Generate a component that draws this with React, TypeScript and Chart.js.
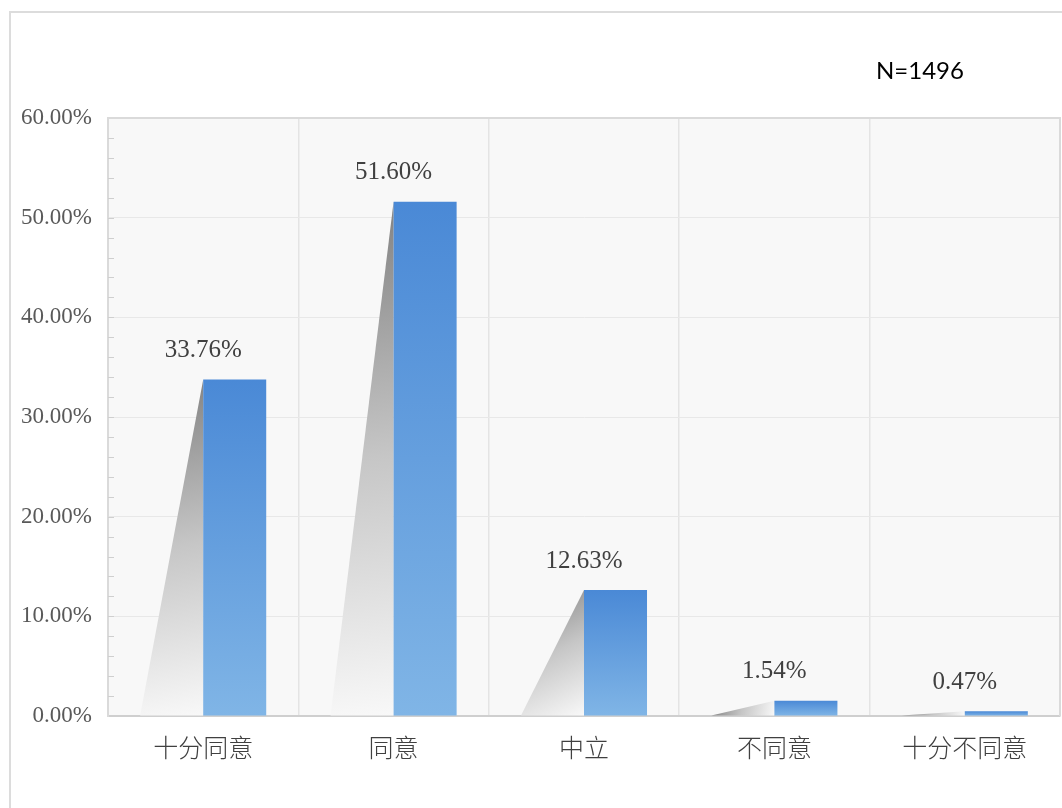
import React, { useEffect, useRef } from "react";
import { Chart, registerables } from "chart.js";

Chart.register(...registerables);

const categories = ["十分同意", "同意", "中立", "不同意", "十分不同意"];
const percentValues = [33.76, 51.6, 12.63, 1.54, 0.47];
const sampleNote = "N=1496";
const yMax = 60;
const yMajorStep = 10;
const yMinorStep = 2;

const PLOT_BG = "#f8f8f8";

const plotDecorations = {
  id: "plotDecorations",
  beforeDraw(chart: any) {
    const { ctx, chartArea } = chart;
    ctx.save();
    ctx.fillStyle = PLOT_BG;
    ctx.fillRect(chartArea.left, chartArea.top, chartArea.right - chartArea.left, chartArea.bottom - chartArea.top);
    ctx.restore();
  },
  beforeDatasetsDraw(chart: any) {
    const { ctx, chartArea } = chart;
    const yScale = chart.scales.y;
    ctx.save();
    ctx.strokeStyle = "#cfcfcf";
    ctx.lineWidth = 1;
    for (let v = yMinorStep; v < yMax; v += yMinorStep) {
      const py = Math.round(yScale.getPixelForValue(v)) + 0.5;
      ctx.beginPath();
      ctx.moveTo(chartArea.left, py);
      ctx.lineTo(chartArea.left + 6, py);
      ctx.stroke();
    }
    ctx.strokeStyle = "#dadada";
    ctx.lineWidth = 2;
    ctx.beginPath();
    ctx.moveTo(chartArea.left, chartArea.top);
    ctx.lineTo(chartArea.right, chartArea.top);
    ctx.lineTo(chartArea.right, chartArea.bottom);
    ctx.stroke();
    ctx.restore();

    const meta = chart.getDatasetMeta(0);
    ctx.save();
    meta.data.forEach((el: any) => {
      const p = el.getProps(["x", "y", "base", "width"], true);
      const right = p.x + p.width / 2;
      const w = p.width;
      const top = p.y;
      const bottom = p.base;
      const g = ctx.createLinearGradient(right - w, top, right, bottom);
      g.addColorStop(0, "rgba(128,128,128,1)");
      g.addColorStop(0.5, "rgba(198,198,198,1)");
      g.addColorStop(1, "rgba(248,248,248,1)");
      ctx.fillStyle = g;
      ctx.beginPath();
      ctx.moveTo(right, top);
      ctx.lineTo(right - w, bottom);
      ctx.lineTo(right, bottom);
      ctx.closePath();
      ctx.fill();
    });
    ctx.restore();
  },
  afterDatasetsDraw(chart: any) {
    const { ctx } = chart;
    const xScale = chart.scales.x;
    const meta = chart.getDatasetMeta(1);
    ctx.save();
    ctx.fillStyle = "#404040";
    ctx.font = "25px 'Liberation Serif', serif";
    ctx.textAlign = "center";
    ctx.textBaseline = "middle";
    meta.data.forEach((el: any, i: number) => {
      const p = el.getProps(["y"], true);
      const cx = xScale.getPixelForValue(i);
      ctx.fillText(percentValues[i].toFixed(2) + "%", cx, p.y - 29);
    });
    ctx.restore();
  },
};

export default function App() {
  const canvasRef = useRef<HTMLCanvasElement | null>(null);

  useEffect(() => {
    document.body.style.margin = "0";
    const canvas = canvasRef.current;
    if (!canvas) return;
    const chart = new Chart(canvas, {
      type: "bar",
      data: {
        labels: categories,
        datasets: [
          {
            label: "shadow",
            data: percentValues,
            backgroundColor: "rgba(0,0,0,0)",
            borderWidth: 0,
          },
          {
            label: "比例",
            data: percentValues,
            borderWidth: 0,
            backgroundColor: (context: any) => {
              const chartObj = context.chart;
              const yScale = chartObj.scales && chartObj.scales.y;
              if (!chartObj.chartArea || !yScale || context.raw == null) return "#5b95da";
              const top = yScale.getPixelForValue(context.raw);
              const bottom = yScale.getPixelForValue(0);
              const g = chartObj.ctx.createLinearGradient(0, top, 0, Math.max(bottom, top + 1));
              g.addColorStop(0, "#4a89d6");
              g.addColorStop(1, "#80b5e6");
              return g;
            },
          },
        ],
      },
      options: {
        animation: false,
        responsive: false,
        devicePixelRatio: 1,
        layout: { padding: { top: 118, right: 2, left: 0, bottom: 0 } },
        datasets: {
          bar: { categoryPercentage: 0.662, barPercentage: 1 },
        },
        plugins: {
          legend: { display: false },
          tooltip: { enabled: false },
          title: { display: false },
        },
        scales: {
          x: {
            grid: {
              display: true,
              offset: true,
              color: "#e4e4e4",
              lineWidth: 1.5,
              drawTicks: false,
            },
            border: { display: true, color: "#cfcfcf", width: 2 },
            ticks: {
              color: "#404040",
              padding: 16,
              font: { family: "'Noto Sans CJK SC', sans-serif", size: 25, weight: "300" as any },
            },
            afterFit: (scale: any) => {
              scale.height = 92;
            },
          },
          y: {
            min: 0,
            max: yMax,
            grid: {
              drawTicks: false,
              color: (ctx: any) => {
                const v = ctx.tick ? ctx.tick.value : 0;
                if (v === yMax) return "rgba(0,0,0,0)";
                return v % yMajorStep === 0 ? "#e8e8e8" : "rgba(0,0,0,0)";
              },
              lineWidth: 1,
            },
            border: { display: true, color: "#dadada", width: 2 },
            ticks: {
              stepSize: yMinorStep,
              autoSkip: false,
              color: "#595959",
              padding: 16,
              font: { family: "'Liberation Serif', serif", size: 23 },
              callback: (value: any) => {
                const v = Number(value);
                return v % yMajorStep === 0 ? v.toFixed(2) + "%" : "";
              },
            },
            afterFit: (scale: any) => {
              scale.width = 108;
            },
          },
        },
      },
      plugins: [plotDecorations],
    });
    return () => chart.destroy();
  }, []);

  return (
    <div style={{ position: "relative", width: 1062, height: 808, overflow: "hidden", background: "#fff" }}>
      <div
        style={{
          position: "absolute",
          left: 9,
          top: 11,
          width: 3000,
          height: 3000,
          borderLeft: "2px solid #dcdcdc",
          borderTop: "2px solid #dcdcdc",
        }}
      />
      <canvas
        ref={canvasRef}
        width={1062}
        height={808}
        style={{ position: "absolute", left: 0, top: 0, width: 1062, height: 808 }}
      />
      <div
        style={{
          position: "absolute",
          left: 876,
          top: 55,
          fontFamily: "Lato, 'Open Sans', sans-serif",
          fontSize: 24,
          lineHeight: "30px",
          color: "#000",
        }}
      >
        {sampleNote}
      </div>
    </div>
  );
}
